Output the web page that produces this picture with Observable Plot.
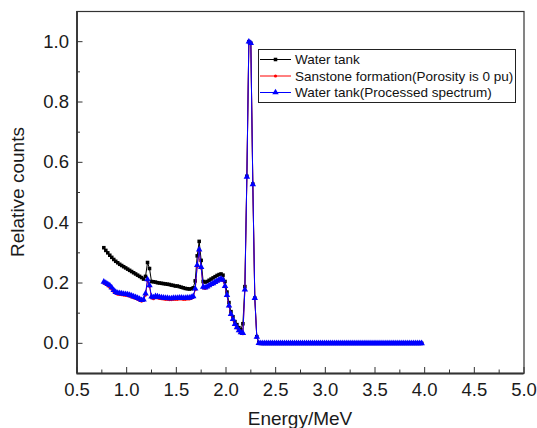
<!DOCTYPE html>
<html>
<head>
<meta charset="utf-8">
<script src="https://cdn.jsdelivr.net/npm/d3@7"></script>
<script src="https://cdn.jsdelivr.net/npm/@observablehq/plot@0.6"></script>
<style>
  html, body { margin: 0; padding: 0; background: #fff; }
  #chart { width: 537px; height: 428px; }
</style>
</head>
<body>
<div id="chart"></div>
<script>
// ---------- data ----------
const seriesNames = ["Water tank", "Sanstone formation(Porosity is 0 pu)", "Water tank(Processed spectrum)"];
const seriesColors = ["#000000", "#ff0000", "#0000ff"];

const energy = [
0.77,0.79,0.81,0.83,0.85,0.87,0.89,0.91,0.93,0.95,
0.97,0.99,1.01,1.03,1.05,1.07,1.09,1.11,1.13,1.15,
1.17,1.19,1.21,1.23,1.25,1.27,1.29,1.31,1.33,1.35,
1.37,1.39,1.41,1.43,1.45,1.47,1.49,1.51,1.53,1.55,
1.57,1.59,1.61,1.63,1.65,1.67,1.69,1.71,1.73,1.75,
1.77,1.79,1.81,1.83,1.85,1.87,1.89,1.91,1.93,1.95,
1.97,1.99,2.01,2.03,2.05,2.07,2.09,2.11,2.13,2.15,
2.17,2.19,2.21,2.23,2.25,2.27,2.29,2.31,2.33,2.35,
2.37,2.39,2.41,2.43,2.45,2.47,2.49,2.51,2.53,2.55,
2.57,2.59,2.61,2.63,2.65,2.67,2.69,2.71,2.73,2.75,
2.77,2.79,2.81,2.83,2.85,2.87,2.89,2.91,2.93,2.95,
2.97,2.99,3.01,3.03,3.05,3.07,3.09,3.11,3.13,3.15,
3.17,3.19,3.21,3.23,3.25,3.27,3.29,3.31,3.33,3.35,
3.37,3.39,3.41,3.43,3.45,3.47,3.49,3.51,3.53,3.55,
3.57,3.59,3.61,3.63,3.65,3.67,3.69,3.71,3.73,3.75,
3.77,3.79,3.81,3.83,3.85,3.87,3.89,3.91,3.93,3.95,
3.97];

const waterTank = [
0.317,0.308,0.300,0.292,0.285,0.278,0.272,0.267,0.262,0.258,
0.254,0.250,0.246,0.242,0.238,0.234,0.230,0.226,0.222,0.218,
0.213,0.222,0.268,0.248,0.205,0.204,0.203,0.201,0.200,0.199,
0.198,0.197,0.196,0.195,0.193,0.192,0.190,0.190,0.188,0.186,
0.184,0.182,0.181,0.180,0.181,0.184,0.207,0.290,0.338,0.275,
0.205,0.203,0.205,0.209,0.213,0.217,0.221,0.225,0.228,0.230,
0.226,0.205,0.170,0.135,0.105,0.088,0.072,0.062,0.052,0.045,
0.065,0.188,0.554,1.000,0.995,0.528,0.150,0.022,0.002,0,
0,0,0,0,0,0,0,0,0,0,
0,0,0,0,0,0,0,0,0,0,
0,0,0,0,0,0,0,0,0,0,
0,0,0,0,0,0,0,0,0,0,
0,0,0,0,0,0,0,0,0,0,
0,0,0,0,0,0,0,0,0,0,
0,0,0,0,0,0,0,0,0,0,
0,0,0,0,0,0,0,0,0,0,
0];

const sandstone = [
0.200,0.196,0.191,0.186,0.180,0.172,0.166,0.163,0.162,0.161,
0.160,0.159,0.158,0.156,0.154,0.151,0.149,0.146,0.143,0.140,
0.142,0.160,0.208,0.189,0.151,0.148,0.152,0.151,0.149,0.148,
0.147,0.146,0.146,0.145,0.145,0.146,0.146,0.146,0.147,0.147,
0.146,0.146,0.147,0.147,0.149,0.153,0.178,0.255,0.306,0.250,
0.184,0.182,0.186,0.190,0.194,0.197,0.201,0.205,0.209,0.212,
0.208,0.188,0.158,0.123,0.095,0.078,0.062,0.051,0.041,0.034,
0.032,0.178,0.552,1.000,0.995,0.527,0.150,0.021,0.001,0,
0,0,0,0,0,0,0,0,0,0,
0,0,0,0,0,0,0,0,0,0,
0,0,0,0,0,0,0,0,0,0,
0,0,0,0,0,0,0,0,0,0,
0,0,0,0,0,0,0,0,0,0,
0,0,0,0,0,0,0,0,0,0,
0,0,0,0,0,0,0,0,0,0,
0,0,0,0,0,0,0,0,0,0,
0];

const processed = [
0.204,0.200,0.196,0.192,0.185,0.176,0.170,0.167,0.166,0.165,
0.164,0.163,0.162,0.160,0.158,0.155,0.153,0.150,0.147,0.143,
0.145,0.165,0.212,0.192,0.155,0.152,0.156,0.155,0.153,0.152,
0.151,0.150,0.150,0.149,0.149,0.150,0.150,0.150,0.151,0.151,
0.150,0.150,0.151,0.151,0.153,0.156,0.181,0.259,0.311,0.253,
0.187,0.185,0.188,0.192,0.196,0.199,0.203,0.207,0.211,0.214,
0.210,0.190,0.160,0.125,0.097,0.080,0.064,0.053,0.043,0.036,
0.034,0.178,0.552,1.000,0.995,0.527,0.150,0.021,0.001,0,
0,0,0,0,0,0,0,0,0,0,
0,0,0,0,0,0,0,0,0,0,
0,0,0,0,0,0,0,0,0,0,
0,0,0,0,0,0,0,0,0,0,
0,0,0,0,0,0,0,0,0,0,
0,0,0,0,0,0,0,0,0,0,
0,0,0,0,0,0,0,0,0,0,
0,0,0,0,0,0,0,0,0,0,
0];

const xMajorTicks = [0.5,1.0,1.5,2.0,2.5,3.0,3.5,4.0,4.5,5.0];
const xMinorTicks = [0.75,1.25,1.75,2.25,2.75,3.25,3.75,4.25,4.75];
const yMajorTicks = [0.0,0.2,0.4,0.6,0.8,1.0];
const yMinorTicks = [0.1,0.3,0.5,0.7,0.9];
const xLabel = "Energy/MeV";
const yLabel = "Relative counts";

// ---------- table ----------
const allSeries = [waterTank, sandstone, processed];
const rows = (k) => energy.map((e, i) => ({energy: e, value: allSeries[k][i], series: seriesNames[k]}));
const tables = [0, 1, 2].map(rows);

const FONT = "'Liberation Sans', Arial, Helvetica, sans-serif";
const symbols = ["square", "circle", "triangle"];
const radii = [2.0, 1.6, 2.4];

const marks = [];
tables.forEach((t, k) => {
  marks.push(Plot.line(t, {x: "energy", y: "value", stroke: seriesColors[k], strokeWidth: 1}));
  marks.push(Plot.dot(t, {x: "energy", y: "value", fill: seriesColors[k], stroke: "none", symbol: symbols[k], r: radii[k]}));
});

const chart = Plot.plot({
  width: 537,
  height: 428,
  marginLeft: 76.5,
  marginRight: 13.5,
  marginTop: 11,
  marginBottom: 55,
  style: {fontFamily: FONT, background: "#fff", color: "#1a1a1a"},
  x: {domain: [0.5, 5.0]},
  y: {domain: [-0.1, 1.1]},
  marks: [
    ...marks,
    Plot.frame({stroke: "#333", strokeWidth: 1.2}),
    Plot.ruleX([0.5], {stroke: "#333", strokeWidth: 1.8}),
    Plot.ruleY([-0.1], {stroke: "#333", strokeWidth: 1.8}),
    Plot.axisX({ticks: xMajorTicks, tickSize: -6, tickPadding: 15, tickFormat: d => d.toFixed(1), fontSize: 18.5, label: null, stroke: "#333", fill: "#1a1a1a"}),
    Plot.axisX({ticks: xMinorTicks, tickSize: -3.5, tickFormat: () => "", label: null, stroke: "#333"}),
    Plot.axisY({ticks: yMajorTicks, tickSize: -6, tickPadding: 14, tickFormat: d => d.toFixed(1), fontSize: 18.5, label: null, stroke: "#333", fill: "#1a1a1a"}),
    Plot.axisY({ticks: yMinorTicks, tickSize: -3.5, tickFormat: () => "", label: null, stroke: "#333"})
  ]
});

document.getElementById("chart").appendChild(chart);

// ---------- axis titles & legend ----------
const svg = d3.select(chart);
svg.append("text")
  .attr("x", 300).attr("y", 425)
  .attr("text-anchor", "middle")
  .style("font-family", FONT).style("font-size", "19px").attr("fill", "#1a1a1a")
  .text(xLabel);
svg.append("text")
  .attr("transform", "translate(24,192) rotate(-90)")
  .attr("text-anchor", "middle")
  .style("font-family", FONT).style("font-size", "19px").attr("fill", "#1a1a1a")
  .text(yLabel);

const lg = svg.append("g").attr("text-anchor", "start");
lg.append("rect").attr("x", 258.5).attr("y", 49.5).attr("width", 257).attr("height", 53)
  .attr("fill", "#fff").attr("stroke", "#222").attr("stroke-width", 1);
const rowY = [59.5, 76, 92.5];
seriesNames.forEach((name, k) => {
  const y = rowY[k];
  lg.append("line").attr("x1", 260).attr("x2", 291).attr("y1", y).attr("y2", y)
    .attr("stroke", seriesColors[k]).attr("stroke-width", 1);
  const sym = d3.symbol().type([d3.symbolSquare, d3.symbolCircle, d3.symbolTriangle][k]).size(Math.PI * radii[k] * radii[k]);
  lg.append("path").attr("d", sym()).attr("transform", `translate(275.5,${y})`).attr("fill", seriesColors[k]);
  lg.append("text").attr("x", 295).attr("y", y).attr("dy", "0.35em")
    .attr("text-anchor", "start")
    .style("font-family", FONT).style("font-size", "13.5px").attr("fill", "#111")
    .text(name);
});
</script>
</body>
</html>
